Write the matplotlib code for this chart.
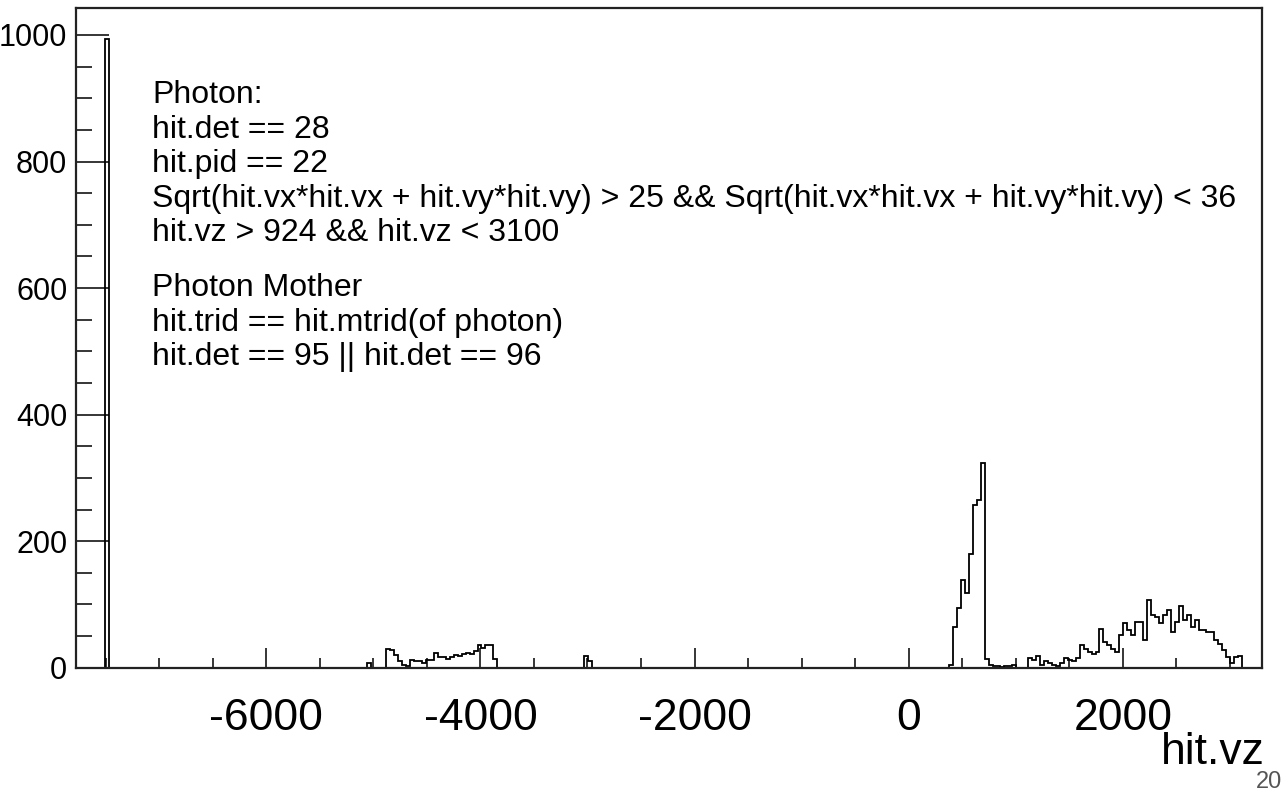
import numpy as np
import matplotlib
matplotlib.use("Agg")
import matplotlib.pyplot as plt
from matplotlib.ticker import MultipleLocator

plt.rcParams["font.family"] = ["Liberation Sans", "DejaVu Sans"]

# ---- histogram of hit.vz -------------------------------------------------
vz_low = -7801.0
bin_width = 37.0
n_bins = 300

# groups of filled bins: left edge of first bin, then the bin contents
beam_start = -7505.0
beam_counts = [993]

upstream_start = -5063.0
upstream_counts = [7, 0, 0, 0, 0, 29, 28, 20, 10, 5, 3, 12, 10, 10, 8, 12, 12,
                   23, 17, 17, 14, 17, 20, 19, 22, 24, 21, 27, 36, 31, 36, 36, 14]

mid_start = -3028.0
mid_counts = [18, 10]

peak_start = 376.0
peak_counts = [4, 65, 94, 138, 118, 180, 257, 265, 323, 14, 4, 2, 2, 1, 2, 3, 4]

tail_start = 1116.0
tail_counts = [15, 12, 18, 4, 11, 7, 5, 3, 8, 16, 12, 10, 15, 36, 30, 25, 21,
               25, 61, 40, 36, 30, 25, 52, 70, 59, 52, 73, 73, 44, 107, 83, 80,
               70, 83, 91, 57, 73, 97, 75, 83, 65, 75, 59, 59, 57, 56, 44, 38,
               28, 17, 7, 17, 19]

x_range = (-7780, 3300)
y_top = 1.05 * 993

cut_lines_photon = [
    "Photon:",
    "hit.det == 28",
    "hit.pid == 22",
    "Sqrt(hit.vx*hit.vx + hit.vy*hit.vy) > 25 && Sqrt(hit.vx*hit.vx + hit.vy*hit.vy) < 36",
    "hit.vz > 924 && hit.vz < 3100",
]
cut_lines_mother = [
    "Photon Mother",
    "hit.trid == hit.mtrid(of photon)",
    "hit.det == 95 || hit.det == 96",
]

# ---- assemble bins -------------------------------------------------------
edges = vz_low + bin_width * np.arange(n_bins + 1)
counts = np.zeros(n_bins)
for start, vals in [(beam_start, beam_counts), (upstream_start, upstream_counts),
                    (mid_start, mid_counts), (peak_start, peak_counts),
                    (tail_start, tail_counts)]:
    i0 = int(round((start - vz_low) / bin_width))
    counts[i0:i0 + len(vals)] = vals

# ---- figure --------------------------------------------------------------
W, H = 1285, 791
fig = plt.figure(figsize=(W / 100, H / 100), dpi=100)
L, R, T, B = 75.7, 1262, 8, 667.7
ax = fig.add_axes([L / W, 1 - B / H, (R - L) / W, (B - T) / H])

ax.stairs(counts, edges, color="black", lw=1.3)
ax.set_xlim(*x_range)
ax.set_ylim(0, y_top)

for s in ax.spines.values():
    s.set_linewidth(1.6)
    s.set_color("#222222")

ax.xaxis.set_major_locator(MultipleLocator(2000))
ax.xaxis.set_minor_locator(MultipleLocator(500))
ax.yaxis.set_major_locator(MultipleLocator(200))
ax.yaxis.set_minor_locator(MultipleLocator(50))

ax.tick_params(axis="x", which="major", direction="in", length=14.5, width=1.1,
               labelsize=32, pad=22, top=False)
ax.tick_params(axis="x", which="minor", direction="in", length=7.3, width=1.1,
               top=False)
ax.tick_params(axis="y", which="major", direction="in", length=23.5, width=1.1,
               labelsize=22, pad=6, right=False)
ax.tick_params(axis="y", which="minor", direction="in", length=11.5, width=1.1,
               right=False)
ax.set_xticklabels([f"{int(v)}" for v in ax.get_xticks()])

ax.set_xlabel("hit.vz", fontsize=32, ha="right", va="baseline")
ax.xaxis.set_label_coords((1265 - L) / (R - L), (B - 764) / (B - T))

# selection cuts written inside the frame
x_txt = (152 - L) / (R - L)
step = 34.5
for i, line in enumerate(cut_lines_photon):
    y = (B - (103 + i * step)) / (B - T)
    ax.text(x_txt, y, line, transform=ax.transAxes, fontsize=23,
            va="baseline", ha="left")
for i, line in enumerate(cut_lines_mother):
    y = (B - (296 + i * step)) / (B - T)
    ax.text(x_txt, y, line, transform=ax.transAxes, fontsize=23,
            va="baseline", ha="left")

fig.text(1282 / W, 1 - 788 / H, "20", ha="right", va="baseline",
         fontsize=17, color="#555555")

fig.savefig("out.png", dpi=100)
